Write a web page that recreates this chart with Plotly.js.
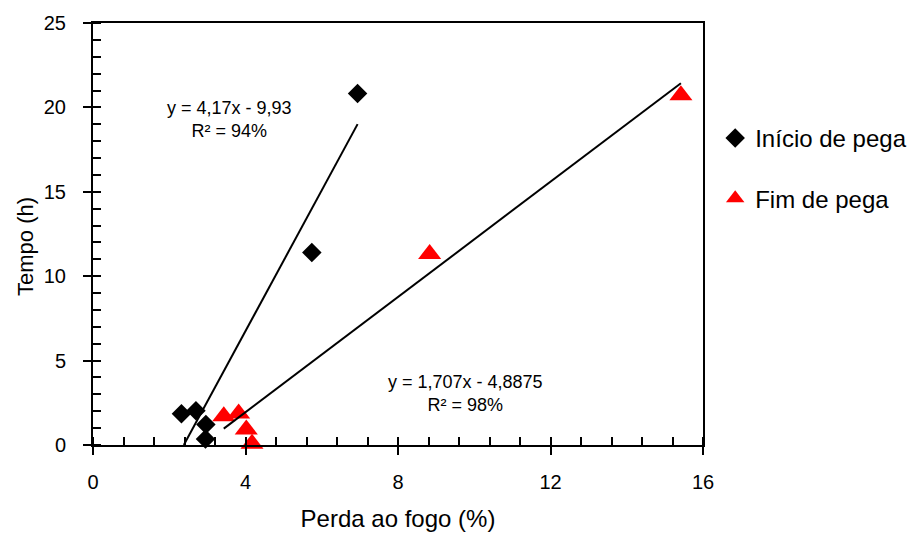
<!DOCTYPE html>
<html>
<head>
<meta charset="utf-8">
<script src="https://cdn.plot.ly/plotly-3.0.1.min.js"></script>
<style>html,body{margin:0;padding:0;background:#fff;}#chart{width:918px;height:535px;}</style>
</head>
<body>
<div id="chart"></div>
<script>
// Data
const inicioX = [2.32, 2.70, 2.96, 2.95, 5.74, 6.94];
const inicioY = [1.85, 2.03, 1.22, 0.35, 11.40, 20.82];
const fimX = [3.43, 3.82, 4.02, 4.17, 8.83, 15.42];
const fimY = [1.70, 1.86, 0.92, 0.08, 11.32, 20.72];
// Trendline equations shown on the chart
const inicioFit = {slope: 4.17, intercept: -9.93};
const fimFit = {slope: 1.707, intercept: -4.8875};
const seriesNames = ["Início de pega", "Fim de pega"];
const eqInicio = "y = 4,17x - 9,93<br>R² = 94%";
const eqFim = "y = 1,707x - 4,8875<br>R² = 98%";
const xTitle = "Perda ao fogo (%)";
const yTitle = "Tempo (h)";

function trend(xs, fit) {
  const root = -fit.intercept / fit.slope;
  const x0 = Math.max(Math.min(...xs), root);
  const x1 = Math.max(...xs);
  return {x: [x0, x1], y: [fit.slope * x0 + fit.intercept, fit.slope * x1 + fit.intercept]};
}
const t1 = trend(inicioX, inicioFit);
const t2 = trend(fimX, fimFit);

const FONT = "Liberation Sans, Arial, sans-serif";

const traces = [
  {x: inicioX, y: inicioY, mode: 'markers', type: 'scatter', name: seriesNames[0], legendgroup: 'a',
   marker: {symbol: 'diamond', size: 15, color: '#000000'}, cliponaxis: false},
  {x: fimX, y: fimY, mode: 'markers', type: 'scatter', name: seriesNames[1], legendgroup: 'b',
   marker: {symbol: 'triangle-up', size: 20, color: '#ff0000'}, cliponaxis: false},
  {x: t1.x, y: t1.y, mode: 'lines', type: 'scatter', showlegend: false, hoverinfo: 'skip',
   line: {color: '#000000', width: 2}},
  {x: t2.x, y: t2.y, mode: 'lines', type: 'scatter', showlegend: false, hoverinfo: 'skip',
   line: {color: '#000000', width: 2}},
  {x: [null], y: [null], xaxis: 'x2', yaxis: 'y2', mode: 'markers', showlegend: false, hoverinfo: 'skip'}
];

const layout = {
  width: 918, height: 535,
  margin: {l: 93, r: 215, t: 23, b: 90, autoexpand: false},
  paper_bgcolor: '#ffffff', plot_bgcolor: '#ffffff',
  font: {family: FONT, color: '#000000', size: 20},
  showlegend: true,
  legend: {x: 1.02, xanchor: 'left', y: 0.78, yanchor: 'top',
           font: {family: FONT, size: 24, color: '#000000'},
           traceorder: 'grouped', tracegroupgap: 26, bgcolor: 'rgba(0,0,0,0)'},
  xaxis: {range: [0, 16], dtick: 4, tick0: 0, showgrid: false, zeroline: false,
          showline: true, linecolor: '#000000', linewidth: 2, mirror: true,
          ticks: 'outside', ticklen: 8, tickwidth: 2, tickcolor: '#000000',
          minor: {dtick: 0.8, ticks: 'inside', ticklen: 8, tickwidth: 2, tickcolor: '#000000', showgrid: false},
          tickfont: {family: FONT, size: 20, color: '#000000'}, ticklabelstandoff: 10,
          title: {text: xTitle, font: {family: FONT, size: 24, color: '#000000'}, standoff: 18}},
  yaxis: {range: [0, 25], dtick: 5, tick0: 0, showgrid: false, zeroline: false,
          showline: true, linecolor: '#000000', linewidth: 2, mirror: true,
          ticks: 'outside', ticklen: 8, tickwidth: 2, tickcolor: '#000000',
          minor: {dtick: 1, ticks: 'inside', ticklen: 8, tickwidth: 2, tickcolor: '#000000', showgrid: false},
          tickfont: {family: FONT, size: 20, color: '#000000'}, ticklabelstandoff: 13},
  xaxis2: {overlaying: 'x', anchor: 'y2', side: 'bottom', range: [0, 16], dtick: 4, tick0: 0,
           ticks: 'inside', ticklen: 8, tickwidth: 2, tickcolor: '#000000', showticklabels: false,
           showline: false, showgrid: false, zeroline: false},
  yaxis2: {overlaying: 'y', anchor: 'x2', side: 'left', range: [0, 25], dtick: 5, tick0: 0,
           ticks: 'inside', ticklen: 8, tickwidth: 2, tickcolor: '#000000', showticklabels: false,
           showline: false, showgrid: false, zeroline: false},
  annotations: [
    {x: 3.575, y: 19.3, xref: 'x', yref: 'y', text: eqInicio, showarrow: false,
     font: {family: FONT, size: 18, color: '#000000'}, align: 'center'},
    {x: 9.77, y: 3.08, xref: 'x', yref: 'y', text: eqFim, showarrow: false,
     font: {family: FONT, size: 18, color: '#000000'}, align: 'center'},
    {x: -0.111, y: 0.47, xref: 'paper', yref: 'paper', text: yTitle, showarrow: false, textangle: -90,
     xanchor: 'center', yanchor: 'middle',
     font: {family: FONT, size: 22, color: '#000000'}}
  ]
};

Plotly.newPlot('chart', traces, layout, {displayModeBar: false, staticPlot: true});
</script>
</body>
</html>
